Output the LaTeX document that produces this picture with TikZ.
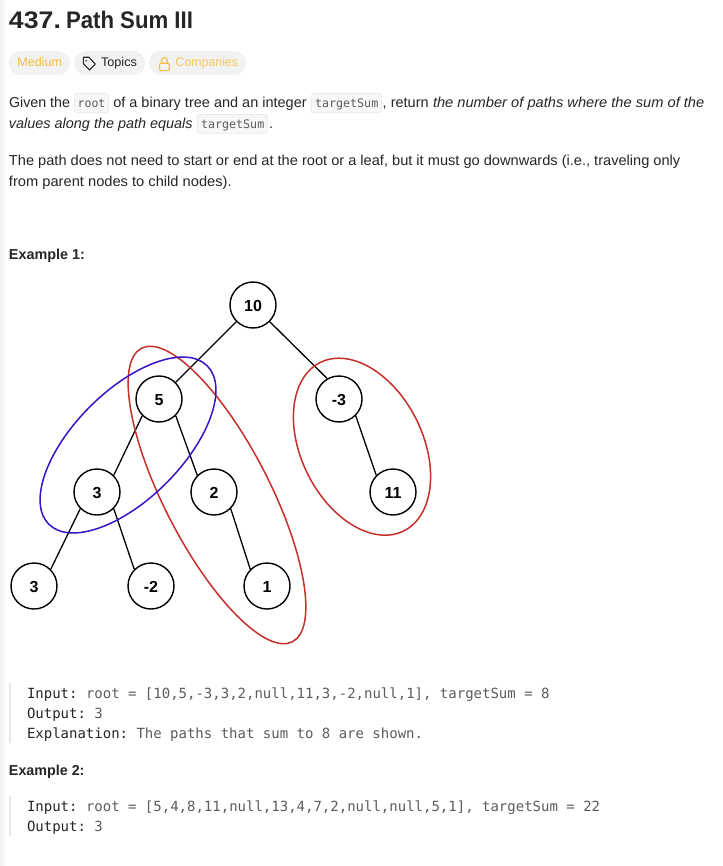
\documentclass[tikz,border=0pt]{standalone}
\usepackage{fontspec}
\usepackage{graphicx}
\setmainfont{Liberation Sans}
\newfontfamily\codefont{DejaVu Sans Mono}
\newfontfamily\diagfont{Liberation Sans}
\newcommand{\fitw}[2]{\resizebox{#1pt}{\height}{#2}}
\definecolor{ink}{HTML}{262626}
\definecolor{codeink}{HTML}{5C5C5C}
\definecolor{chipbg}{HTML}{F2F2F2}
\definecolor{amber}{HTML}{F5BE3C}
\definecolor{redring}{HTML}{C5302A}
\definecolor{bluering}{HTML}{3A12C8}
\definecolor{barcol}{HTML}{E8E8E8}
\definecolor{codebg}{HTML}{F7F7F7}
\definecolor{codeedge}{HTML}{E9E9E9}
\tikzset{
  x=1pt,y=-1pt,
  txt/.style={anchor=base west,inner sep=0,outer sep=0,text=ink,font=\fontsize{14.4}{14.4}\selectfont},
  itxt/.style={txt,font=\fontsize{14.4}{14.4}\selectfont\itshape},
  headtxt/.style={txt,font=\fontsize{14.4}{14.4}\selectfont\bfseries},
  titletxt/.style={txt,font=\fontsize{24}{24}\selectfont\bfseries},
  chip/.style={draw=none,fill=chipbg,rounded corners=11.5pt},
  chiptxt/.style={anchor=base west,inner sep=0,outer sep=0,font=\fontsize{12.5}{12.5}\selectfont},
  codechip/.style={draw=codeedge,fill=codebg,rounded corners=3pt,line width=.7pt},
  inl/.style={anchor=base west,inner sep=0,outer sep=0,text=codeink,font=\codefont\fontsize{11.8}{12}\selectfont},
  mono/.style={anchor=base west,inner sep=0,outer sep=0,text=codeink,font=\codefont\fontsize{14}{14}\selectfont},
  monob/.style={mono,text=ink},
  bar/.style={line width=2pt,draw=barcol},
  tree/.style={circle,draw=black,line width=1.4pt,fill=none,minimum size=46pt,inner sep=0,text height=13.5pt,text depth=0pt,font=\diagfont\bfseries\fontsize{16}{16}\selectfont},
  edge/.style={draw=black,line width=1.3pt},
  ring/.style={line width=1.5pt,fill=none}
}
\begin{document}
\begin{tikzpicture}
\useasboundingbox (0,0) rectangle (722,866);
\fill[white] (0,0) rectangle (722,866);
\shade[left color=black!5,right color=white] (0,0) rectangle (8,866);
% heading
\node[titletxt] (title) at (9,29) {\fitw{52}{437.}};
\node[titletxt] (title2) at (66,29) {\fitw{127}{Path Sum III}};
% chips
\path[chip] (9,51) rectangle (70,75);
\path[chip] (74,51) rectangle (145,75);
\path[chip] (149,51) rectangle (246,75);
\node[chiptxt,text=amber] (med) at (17.3,66.7) {\fitw{44.7}{Medium}};
\node[chiptxt,text=ink] (top) at (101,66.7) {\fitw{36}{Topics}};
\node[chiptxt,text=amber!85!white] (com) at (175.7,66.7) {\fitw{62.3}{Companies}};
\draw[ink,line width=1.1pt,line join=round] (83.3,57.3) -- (89,57.3) -- (95.3,64) -- (89.5,70) -- (83.3,63.5) -- cycle;
\fill[ink] (86.3,60.8) circle (.9pt);
\draw[amber,line width=1.1pt,rounded corners=1pt] (159.6,63.3) rectangle (169.2,70.6);
\draw[amber,line width=1.1pt] (161.6,63.3) -- (161.6,60.3) .. controls (161.6,56.5) and (167.2,56.5) .. (167.2,60.3) -- (167.2,63.3);
% paragraph 1
\path[codechip] (74.3,93.6) rectangle (108.8,112.7);
\path[codechip] (311.2,93.6) rectangle (381.7,112.7);
\path[codechip] (197.2,114.5) rectangle (267.6,133.3);
\node[txt] (p1a) at (9,107.3) {\fitw{61}{Given the}};
\node[inl] (c1) at (77.7,107.3) {\fitw{27.6}{root}};
\node[txt] (p1b) at (113.3,107.3) {\fitw{193.4}{of a binary tree and an integer}};
\node[inl] (c2) at (315,107.3) {\fitw{63.3}{targetSum}};
\node[txt] (p1c) at (382.7,107.3) {\fitw{46}{, return}};
\node[itxt] (p1d) at (433,107.3) {\fitw{271.3}{the number of paths where the sum of the}};
\node[itxt] (p2a) at (9,128.3) {\fitw{183.7}{values along the path equals}};
\node[inl] (c3) at (201,128.3) {\fitw{63.3}{targetSum}};
\node[txt] (p2b) at (269,128.3) {.};
\node[txt] (p3) at (9,165.7) {\fitw{671.3}{The path does not need to start or end at the root or a leaf, but it must go downwards (i.e., traveling only}};
\node[txt] (p4) at (9,186.7) {\fitw{222.7}{from parent nodes to child nodes).}};
\node[headtxt] (ex1) at (9,260) {\fitw{76}{Example 1:}};
% tree
\node[tree] (n10) at (253,305) {10};
\node[tree] (n5) at (159,399) {5};
\node[tree] (nm3) at (339,399) {-3};
\node[tree] (n3) at (97,492) {3};
\node[tree] (n2) at (214,492) {2};
\node[tree] (n11) at (393,492) {11};
\node[tree] (n3b) at (34,586) {3};
\node[tree] (nm2) at (151,586) {-2};
\node[tree] (n1) at (267,586) {1};
\draw[edge] (n10.south west)--(n5.north east);
\draw[edge] (n10.south east)--(nm3.120);
\draw[edge] (n5.south west)--(n3.north east);
\draw[edge] (n5.south east)--(n2.north west);
\draw[edge] (nm3.south east)--(n11.north west);
\draw[edge] (n3.south west)--(n3b.north east);
\draw[edge] (n3.south east)--(nm2.north west);
\draw[edge] (n2.south east)--(n1.north west);
\draw[ring,draw=redring,rotate around={-62.8:(217,495)}] (217,495) ellipse (165 and 52.8);
\draw[ring,draw=redring,rotate around={-63.7:(362,446.7)}] (362,446.7) ellipse (94 and 60.8);
\draw[ring,draw=bluering,rotate around={45:(128,445)}] (128,445) ellipse (112 and 54);
% example 1 code
\draw[bar] (10,683) -- (10,743);
\node[monob] (i1) at (27,698.3) {Input:};
\node[mono] (i1v) at (86,698.3) {root = [10,5,-3,3,2,null,11,3,-2,null,1], targetSum = 8};
\node[monob] (o1) at (27,718.3) {Output:};
\node[mono] (o1v) at (94.4,718.3) {3};
\node[monob] (e1) at (27,738.3) {Explanation:};
\node[mono] (e1v) at (136.5,738.3) {The paths that sum to 8 are shown.};
\node[headtxt] (ex2) at (9,775) {\fitw{75.5}{Example 2:}};
\draw[bar] (10,796) -- (10,836);
\node[monob] (i2) at (27,811.5) {Input:};
\node[mono] (i2v) at (86,811.5) {root = [5,4,8,11,null,13,4,7,2,null,null,5,1], targetSum = 22};
\node[monob] (o2) at (27,831.5) {Output:};
\node[mono] (o2v) at (94.4,831.5) {3};
\end{tikzpicture}
\end{document}
